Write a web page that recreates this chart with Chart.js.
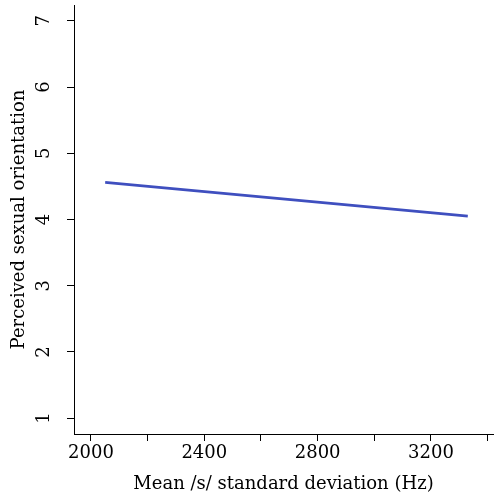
<!DOCTYPE html>
<html>
<head>
<meta charset="utf-8">
<script src="https://cdn.jsdelivr.net/npm/chart.js@4"></script>
<style>
  html, body { margin: 0; padding: 0; background: #fff; }
  #wrap { width: 496px; height: 497px; }
</style>
</head>
<body>
<div id="wrap"><canvas id="chart" width="496" height="497"></canvas></div>
<script>
// fitted line
var lineX = [2050, 3330];
var lineY = [4.56, 4.05];

var xTicks = [2000, 2200, 2400, 2600, 2800, 3000, 3200, 3400];
var xLabels = [2000, 2400, 2800, 3200];
var yTicks = [1, 2, 3, 4, 5, 6, 7];

var serif = 'DejaVu Serif';

// R draws the y tick labels turned on their side
var sideLabels = {
  id: 'sideLabels',
  afterDraw: function (chart) {
    var ctx = chart.ctx;
    var y = chart.scales.y;
    ctx.save();
    ctx.fillStyle = '#000';
    ctx.font = '18px "' + serif + '"';
    ctx.textAlign = 'center';
    ctx.textBaseline = 'middle';
    yTicks.forEach(function (v) {
      var py = y.getPixelForValue(v);
      ctx.save();
      ctx.translate(y.right - 30, py);
      ctx.rotate(-Math.PI / 2);
      ctx.fillText(String(v), 0, 0);
      ctx.restore();
    });
    ctx.restore();
  }
};

var ctx = document.getElementById('chart');
var chart = new Chart(ctx, {
  type: 'scatter',
  data: {
    datasets: [{
      data: lineX.map(function (x, i) { return { x: x, y: lineY[i] }; }),
      showLine: true,
      borderColor: '#3F4FBF',
      borderWidth: 2.7,
      pointRadius: 0,
      fill: false
    }]
  },
  options: {
    responsive: false,
    animation: false,
    layout: { padding: { top: 5, right: 3, left: 0, bottom: 0 } },
    plugins: { legend: { display: false }, tooltip: { enabled: false } },
    scales: {
      x: {
        type: 'linear',
        min: 1940,
        max: 3419,
        afterBuildTicks: function (scale) {
          scale.ticks = xTicks.map(function (v) { return { value: v }; });
        },
        afterFit: function (scale) { scale.height = 63; },
        grid: { drawOnChartArea: false, drawTicks: true, tickLength: 7, color: '#000', lineWidth: 1 },
        border: { display: true, color: '#000', width: 1 },
        ticks: {
          color: '#000',
          padding: 2,
          maxRotation: 0,
          autoSkip: false,
          font: { family: serif, size: 18 },
          callback: function (v) { return xLabels.indexOf(v) >= 0 ? String(v) : ''; }
        },
        title: {
          display: true,
          text: 'Mean /s/ standard deviation (Hz)',
          color: '#000',
          font: { family: serif, size: 18 },
          padding: { top: 0, bottom: 2 }
        }
      },
      y: {
        type: 'linear',
        min: 0.76,
        max: 7.24,
        afterBuildTicks: function (scale) {
          scale.ticks = yTicks.map(function (v) { return { value: v }; });
        },
        afterFit: function (scale) { scale.width = 74; },
        grid: { drawOnChartArea: false, drawTicks: true, tickLength: 7, color: '#000', lineWidth: 1 },
        border: { display: true, color: '#000', width: 1 },
        ticks: { display: false },
        title: {
          display: true,
          text: 'Perceived sexual orientation',
          color: '#000',
          font: { family: serif, size: 18 },
          padding: { top: 9, bottom: 0 }
        }
      }
    }
  },
  plugins: [sideLabels]
});
</script>
</body>
</html>
